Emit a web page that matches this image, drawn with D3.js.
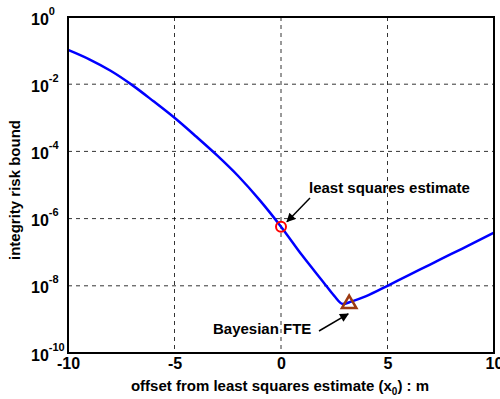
<!DOCTYPE html>
<html><head><meta charset="utf-8">
<script src="https://cdn.jsdelivr.net/npm/d3@7"></script>
<style>body{margin:0;background:#fff}svg{display:block}text{font-family:"Liberation Sans",Arial,sans-serif;font-weight:bold;fill:#000}</style>
</head><body>
<svg id="c" width="500" height="399"></svg>
<script>
const offsets = [-10,-9,-8,-7,-6,-5,-4,-3,-2,-1,0,1,2,2.5,2.9,3.3,4,5,6,7,8,9,10];
const riskBound = [0.105,0.055,0.0251,0.00955,0.00316,0.0010,2.82e-4,7.59e-5,1.82e-5,3.55e-6,5.75e-7,7.94e-8,1.26e-8,5.0e-9,2.88e-9,3.39e-9,4.9e-9,1.0e-8,2.09e-8,4.27e-8,8.9e-8,1.82e-7,3.8e-7];
const xTicks = [-10,-5,0,5,10];
const yExponents = [0,-2,-4,-6,-8,-10];
const lsEstimate = {x:0, y:5.75e-7};
const bayesFTE = {x:3.2, y:2.9e-9};

const svg = d3.select("#c");
const L=68,R=494,T=17,B=353;
const x = d3.scaleLinear().domain([-10,10]).range([L,R]);
const y = d3.scaleLog().domain([1e-10,1]).range([B,T]);

// grid
const g = svg.append("g");
xTicks.slice(1,-1).forEach(v=>g.append("line").attr("x1",x(v)).attr("x2",x(v)).attr("y1",T).attr("y2",B)
  .attr("stroke","#000").attr("stroke-width",0.8).attr("stroke-dasharray","4,4"));
yExponents.slice(1,-1).forEach(e=>g.append("line").attr("x1",L).attr("x2",R).attr("y1",y(Math.pow(10,e))).attr("y2",y(Math.pow(10,e)))
  .attr("stroke","#000").attr("stroke-width",0.8).attr("stroke-dasharray","4,4"));

// curve
const line = d3.line().x((d,i)=>x(offsets[i])).y(d=>y(d)).curve(d3.curveMonotoneX);
svg.append("path").attr("d",line(riskBound)).attr("fill","none").attr("stroke","#0000ff").attr("stroke-width",2.5);

// box
svg.append("rect").attr("x",L).attr("y",T).attr("width",R-L).attr("height",B-T).attr("fill","none").attr("stroke","#000").attr("stroke-width",2);

// x axis labels
const xAxis = d3.axisBottom(x).tickValues(xTicks).tickSize(0).tickPadding(0).tickFormat(d=>d);
const xa = svg.append("g").attr("transform",`translate(0,${B})`).call(xAxis);
xa.select(".domain").remove();
xa.selectAll("text").attr("y",16).attr("dy",0).style("font-size","16px").style("font-family","Liberation Sans, Arial, sans-serif").style("font-weight","bold").attr("fill","#000");

// y axis labels
yExponents.forEach(e=>{
  const t = svg.append("text").attr("x",31).attr("y",y(Math.pow(10,e))+7.5).style("font-size","16px");
  t.append("tspan").text("10");
  t.append("tspan").attr("dy",-10).style("font-size","11px").text(e===0?"0":"-"+(-e));
});

// markers
svg.append("circle").attr("cx",x(lsEstimate.x)).attr("cy",y(lsEstimate.y)).attr("r",5)
  .attr("fill","none").attr("stroke","#ff0000").attr("stroke-width",2);
const tri = d3.symbol().type(d3.symbolTriangle).size(90);
svg.append("path").attr("d",tri()).attr("transform",`translate(${x(bayesFTE.x)},${y(bayesFTE.y)})`)
  .attr("fill","none").attr("stroke","#9c3a10").attr("stroke-width",2.5);

// arrows
svg.append("defs").append("marker").attr("id","ah").attr("viewBox","0 0 10 10").attr("refX",9).attr("refY",5)
  .attr("markerWidth",11).attr("markerHeight",9).attr("markerUnits","userSpaceOnUse").attr("orient","auto")
  .append("path").attr("d","M0,0L10,5L0,10z").attr("fill","#000");
const cx0=x(lsEstimate.x), cy0=y(lsEstimate.y);
svg.append("line").attr("x1",310).attr("y1",198).attr("x2",cx0+6).attr("y2",cy0-5)
  .attr("stroke","#000").attr("stroke-width",1.5).attr("marker-end","url(#ah)");
const tx0=x(bayesFTE.x), ty0=y(bayesFTE.y);
svg.append("line").attr("x1",319).attr("y1",331).attr("x2",tx0-1).attr("y2",ty0+10)
  .attr("stroke","#000").attr("stroke-width",1.5).attr("marker-end","url(#ah)");

svg.append("text").attr("x",309).attr("y",193).style("font-size","15px").text("least squares estimate");
svg.append("text").attr("x",213).attr("y",334).style("font-size","15px").text("Bayesian FTE");

// axis titles
const xt = svg.append("text").attr("x",(L+R)/2-1).attr("y",391).attr("text-anchor","middle").style("font-size","15px");
xt.append("tspan").text("offset from least squares estimate (x");
xt.append("tspan").attr("dy",4).style("font-size","10px").text("0");
xt.append("tspan").attr("dy",-4).text(") : m");
svg.append("text").attr("transform","translate(20,190) rotate(-90)").attr("text-anchor","middle").style("font-size","15px").text("integrity risk bound");
</script>
</body></html>
